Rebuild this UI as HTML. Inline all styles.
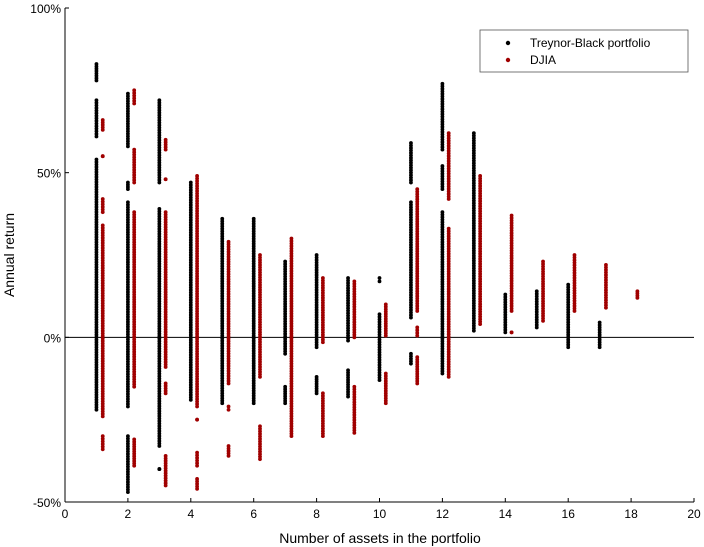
<!DOCTYPE html>
<html><head><meta charset="utf-8"><style>
body{margin:0;background:#fff}
svg{display:block;font-family:"Liberation Sans",sans-serif}
</style></head><body>
<svg id="chart" width="704" height="547" viewBox="0 0 704 547">
<g id="axes"></g>
<g id="marks"></g>
<g>
<rect x="480" y="30" width="208" height="42" fill="#fff" stroke="#555" stroke-width="0.8"/>
<circle cx="508" cy="43" r="2.2" fill="#000"/>
<text x="530" y="47" font-size="12">Treynor-Black portfolio</text>
<circle cx="508" cy="60" r="2.2" fill="#a00000"/>
<text x="530" y="64" font-size="12">DJIA</text>
</g>
<text x="380" y="543" font-size="14" text-anchor="middle">Number of assets in the portfolio</text>
<text transform="translate(14,255) rotate(-90)" font-size="14" text-anchor="middle">Annual return</text>
</svg>
<script>
const xTicks=[0,2,4,6,8,10,12,14,16,18,20];
const yTicks=[-50,0,50,100];
const yTickLabels=["-50%","0%","50%","100%"];
// segments: [number of assets, low %, high %]
const treynorSegments=[[1,78,83],[1,61,72],[1,-22,54],[2,58,74],[2,45,47],[2,-21,41],[2,-47,-30],[3,47,72],[3,-33,39],[3,-40,-40],[4,-19,47],[5,-20,36],[6,-20,36],[7,-5,23],[7,-20,-15],[8,-3,25],[8,-17,-12],[9,-1,18],[9,-18,-10],[10,17,18],[10,-13,7],[11,47,59],[11,6,41],[11,-8,-5],[12,57,77],[12,45,52],[12,-11,38],[13,2,62],[14,1.5,13],[15,3,14],[16,-3,16],[17,-3,4.5]];
const djiaSegments=[[1,63,66],[1,55,55],[1,38,42],[1,-24,34],[1,-34,-30],[2,71,75],[2,47,57],[2,-15,38],[2,-39,-31],[3,57,60],[3,48,48],[3,-9,38],[3,-17,-14],[3,-45,-36],[4,-21,49],[4,-25,-25],[4,-39,-35],[4,-46,-43],[5,-14,29],[5,-22,-21],[5,-36,-33],[6,-12,25],[6,-37,-27],[7,-30,30],[8,-1.5,18],[8,-30,-17],[9,0,17],[9,-29,-15],[10,0.5,10],[10,-20,-11],[11,8,45],[11,0.5,3],[11,-14,-6],[12,42,62],[12,-12,33],[13,4,49],[14,8,37],[14,1.5,1.5],[15,5,23],[16,8,25],[17,9,22],[18,12,14]];
const X0=65,X1=694,Y0=502,Y1=8;
const xs=v=>X0+(v-0)/20*(X1-X0);
const ys=v=>Y0-(v+50)/150*(Y0-Y1);
const NS="http://www.w3.org/2000/svg";
const axes=document.getElementById('axes'),marks=document.getElementById('marks');
function mk(tag,attrs,parent){const e=document.createElementNS(NS,tag);for(const k in attrs)e.setAttribute(k,attrs[k]);parent.appendChild(e);return e;}
let l=mk('line',{x1:X0,y1:Y1,x2:X0,y2:Y0,stroke:'#000','stroke-width':1},axes);


l=mk('line',{x1:X0,y1:Y0,x2:X1,y2:Y0,stroke:'#000','stroke-width':1},axes);


l=mk('line',{x1:X0,y1:ys(0),x2:X1,y2:ys(0),stroke:'#000','stroke-width':1},axes);


xTicks.forEach(t=>{
 const tk=mk('line',{x1:xs(t),y1:Y0,x2:xs(t),y2:Y0-4,stroke:'#000'},axes);
 
 
 const tx=mk('text',{x:xs(t),y:Y0+16,'font-size':12,'text-anchor':'middle'},axes);
 tx.textContent=t;
 
 
});
yTicks.forEach((t,i)=>{
 const tk=mk('line',{x1:X0,y1:ys(t),x2:X0+4,y2:ys(t),stroke:'#000'},axes);
 
 
 const tx=mk('text',{x:X0-4,y:ys(t)+5,'font-size':12,'text-anchor':'end'},axes);
 tx.textContent=yTickLabels[i];
 
 
});
function draw(segs,offset,color,name){
 segs.forEach(s=>{
  const cx=xs(s[0]+offset);
  const yTop=ys(s[2]),yBot=ys(s[1]);
  const n=Math.max(1,Math.round((yBot-yTop)/2.5));
  for(let i=0;i<=n;i++){
   const c=mk('circle',{cx:cx,cy:yTop+(yBot-yTop)*i/n,r:1.9,fill:color},marks);
   
   
  }
 });
}
draw(treynorSegments,0,'#000','treynor-point');
draw(djiaSegments,0.2,'#a00000','djia-point');
</script>
</body></html>
